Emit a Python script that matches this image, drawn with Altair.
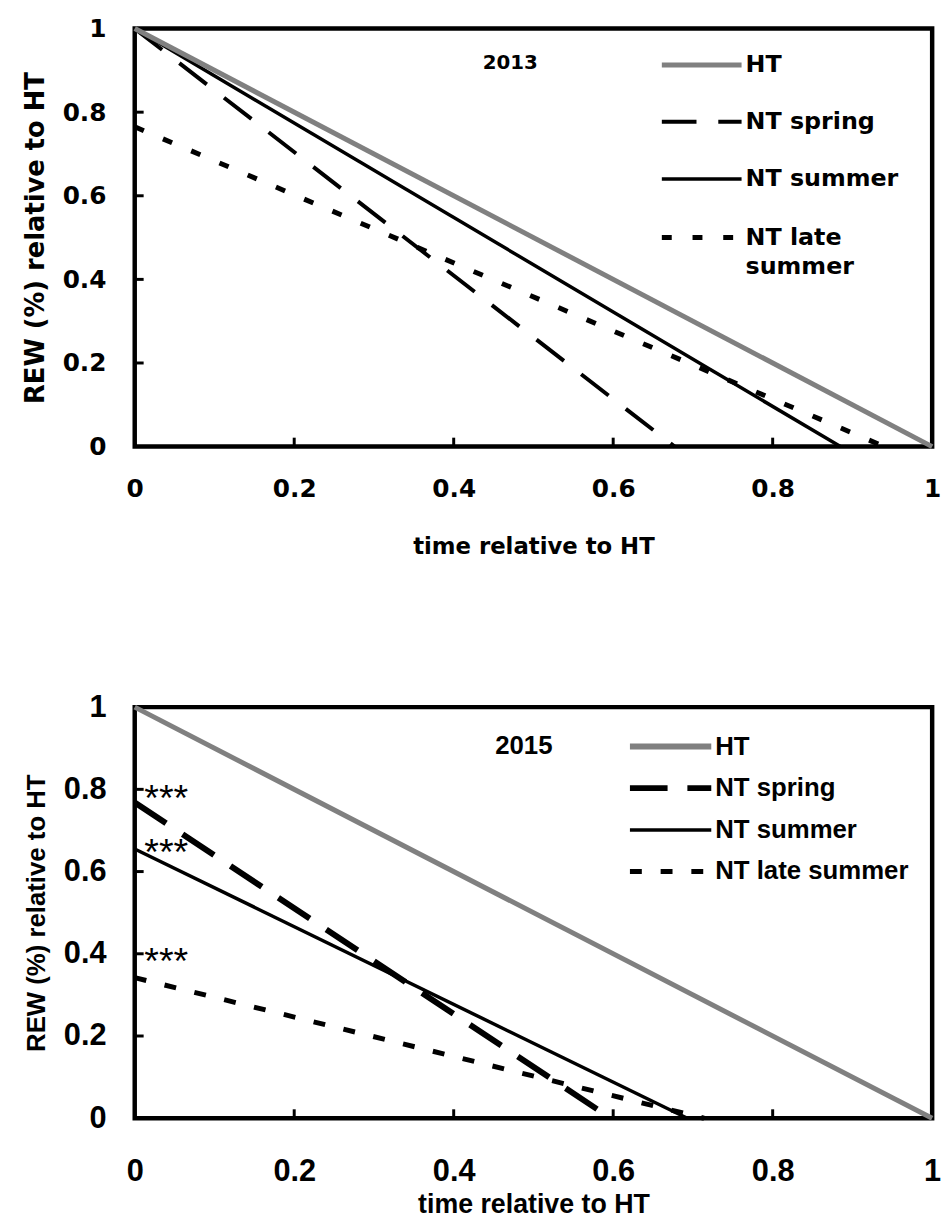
import altair as alt
import pandas as pd

# ---------------- data ----------------
tick_values = [0, 0.2, 0.4, 0.6, 0.8, 1]
inner_ticks = [0.2, 0.4, 0.6, 0.8]
series = ["HT", "NT spring", "NT summer", "NT late summer"]

# 2013 panel (time relative to HT, REW relative to HT)
t13_ht = [0.0, 1.0]
r13_ht = [1.0, 0.0]
t13_spring = [0.0, 0.677]
r13_spring = [1.0, 0.0]
t13_summer = [0.0, 0.885]
r13_summer = [1.0, 0.0]
t13_late = [0.0, 0.94]
r13_late = [0.765, 0.0]

# 2015 panel
t15_ht = [0.0, 1.0]
r15_ht = [1.0, 0.0]
t15_spring = [0.0, 0.597]
r15_spring = [0.768, 0.0]
t15_summer = [0.0, 0.693]
r15_summer = [0.655, 0.0]
t15_late = [0.0, 0.714]
r15_late = [0.342, 0.0]

star_levels_2015 = [0.80, 0.67, 0.405]
star_text = "***"

# ---------------- layout / style ----------------
W = 805
H13 = 422
H15 = 415
GRAY = "#808080"

styles = {
    "HT": dict(color=GRAY, strokeWidth=5),
    "NT spring": dict(color="black", strokeWidth=4, strokeDash=[35, 22]),
    "NT summer": dict(color="black", strokeWidth=3.5),
    "NT late summer": dict(color="black", strokeWidth=5, strokeDash=[10, 21]),
}
styles15 = {
    "HT": dict(color=GRAY, strokeWidth=5),
    "NT spring": dict(color="black", strokeWidth=6, strokeDash=[38, 20]),
    "NT summer": dict(color="black", strokeWidth=3.5),
    "NT late summer": dict(color="black", strokeWidth=5, strokeDash=[12, 19]),
}

xs = alt.Scale(domain=[0, 1], nice=False, zero=False)
ys = alt.Scale(domain=[0, 1], nice=False, zero=False)


def line_layer(t, r, style):
    df = pd.DataFrame({"t": t, "r": r})
    return alt.Chart(df).mark_line(**style).encode(
        x=alt.X("t:Q", scale=xs), y=alt.Y("r:Q", scale=ys)
    )


def tick_layers(h):
    df = pd.DataFrame({"v": inner_ticks})
    xt = alt.Chart(df).mark_rule(color="black", strokeWidth=3).encode(
        x=alt.X("v:Q", scale=xs), y=alt.value(h), y2=alt.value(h - 9)
    )
    yt = alt.Chart(df).mark_rule(color="black", strokeWidth=3).encode(
        y=alt.Y("v:Q", scale=ys), x=alt.value(0), x2=alt.value(9)
    )
    return [xt, yt]


def legend_layers(names, styl, x0, x1, ys_, font, size, label_rows, ht_width):
    layers = []
    for name, yv in zip(names, ys_):
        df = pd.DataFrame({"x0": [x0], "x1": [x1], "y": [yv]})
        st = dict(styl[name])
        if name == "HT":
            st["strokeWidth"] = ht_width
        layers.append(
            alt.Chart(df).mark_rule(**st).encode(
                x=alt.X("x0:Q", scale=xs), x2="x1:Q", y=alt.Y("y:Q", scale=ys)
            )
        )
    tdf = pd.DataFrame(label_rows, columns=["x", "y", "label"])
    layers.append(
        alt.Chart(tdf).mark_text(
            align="left", baseline="middle", font=font, fontSize=size,
            fontWeight="bold", color="black", dx=4
        ).encode(x=alt.X("x:Q", scale=xs), y=alt.Y("y:Q", scale=ys), text="label:N")
    )
    return layers


def axes(font, lsize, tsize_y, tsize_x, xlab_pad, xtitle_pad, ylab_pad, ytitle_pad):
    ax_x = alt.Axis(
        values=tick_values, format="~g", labelFont=font, labelFontSize=lsize,
        labelFontWeight="bold", labelColor="black", labelPadding=xlab_pad,
        labelFlush=False, ticks=False, tickSize=0, domain=False, grid=False,
        title="time relative to HT", titleFont=font, titleFontSize=tsize_x,
        titleFontWeight="bold", titleColor="black", titlePadding=xtitle_pad,
    )
    ax_y = alt.Axis(
        values=tick_values, format="~g", labelFont=font, labelFontSize=lsize,
        labelFontWeight="bold", labelColor="black", labelPadding=ylab_pad,
        ticks=False, tickSize=0, domain=False, grid=False,
        title="REW (%) relative to HT", titleFont=font, titleFontSize=tsize_y,
        titleFontWeight="bold", titleColor="black", titlePadding=ytitle_pad,
    )
    return ax_x, ax_y


# ---------- panel 2013 ----------
F13 = "DejaVu Sans"
ax_x13, ax_y13 = axes(F13, 25, 26, 23, 30, 35, 29, 14)
base13 = alt.Chart(pd.DataFrame({"t": t13_ht, "r": r13_ht})).mark_line(
    **styles["HT"]
).encode(x=alt.X("t:Q", scale=xs, axis=ax_x13), y=alt.Y("r:Q", scale=ys, axis=ax_y13))

layers13 = [
    line_layer(t13_late, r13_late, styles["NT late summer"]),
    line_layer(t13_spring, r13_spring, styles["NT spring"]),
    line_layer(t13_summer, r13_summer, styles["NT summer"]),
    base13,
]
layers13 += tick_layers(H13)
leg_y13 = [0.913, 0.777, 0.640, 0.500]
layers13 += legend_layers(
    series, styles, 0.661, 0.761, leg_y13, F13, 24,
    [[0.761, 0.913, "HT"], [0.761, 0.777, "NT spring"], [0.761, 0.640, "NT summer"],
     [0.761, 0.500, "NT late"], [0.761, 0.429, "summer"]],
    5,
)
year13 = alt.Chart(pd.DataFrame({"x": [0.471], "y": [0.917], "label": ["2013"]})).mark_text(
    font=F13, fontSize=20, fontWeight="bold", color="black", align="center", baseline="middle"
).encode(x=alt.X("x:Q", scale=xs), y=alt.Y("y:Q", scale=ys), text="label:N")
layers13.append(year13)
panel13 = alt.layer(*layers13).properties(width=W, height=H13)

# ---------- panel 2015 ----------
F15 = "Liberation Sans"
ax_x15, ax_y15 = axes(F15, 31, 26, 27, 39, 5, 29, 14)
base15 = alt.Chart(pd.DataFrame({"t": t15_ht, "r": r15_ht})).mark_line(
    **styles15["HT"]
).encode(x=alt.X("t:Q", scale=xs, axis=ax_x15), y=alt.Y("r:Q", scale=ys, axis=ax_y15))

layers15 = [
    line_layer(t15_late, r15_late, styles15["NT late summer"]),
    line_layer(t15_spring, r15_spring, styles15["NT spring"]),
    line_layer(t15_summer, r15_summer, styles15["NT summer"]),
    base15,
]
layers15 += tick_layers(H15)
leg_y15 = [0.904, 0.803, 0.701, 0.600]
layers15 += legend_layers(
    series, styles15, 0.621, 0.723, leg_y15, F15, 26,
    [[0.723, y, s] for y, s in zip(leg_y15, series)],
    6,
)
year15 = alt.Chart(pd.DataFrame({"x": [0.488], "y": [0.906], "label": ["2015"]})).mark_text(
    font=F15, fontSize=26, fontWeight="bold", color="black", align="center", baseline="middle"
).encode(x=alt.X("x:Q", scale=xs), y=alt.Y("y:Q", scale=ys), text="label:N")
stars = alt.Chart(pd.DataFrame({"x": [0.012] * 3, "y": star_levels_2015, "label": [star_text] * 3})).mark_text(
    font=F15, fontSize=38, color="black", align="left", baseline="alphabetic", dy=22
).encode(x=alt.X("x:Q", scale=xs), y=alt.Y("y:Q", scale=ys), text="label:N")
layers15 += [year15, stars]
panel15 = alt.layer(*layers15).properties(width=W, height=H15)

chart = (
    alt.vconcat(panel13, panel15, spacing=128)
    .properties(padding={"left": 20, "top": 8, "right": 4, "bottom": 4}, background="white")
    .configure_view(stroke="black", strokeWidth=4.5)
)

chart.save("out.html", embed_options={"renderer": "svg", "actions": False})
